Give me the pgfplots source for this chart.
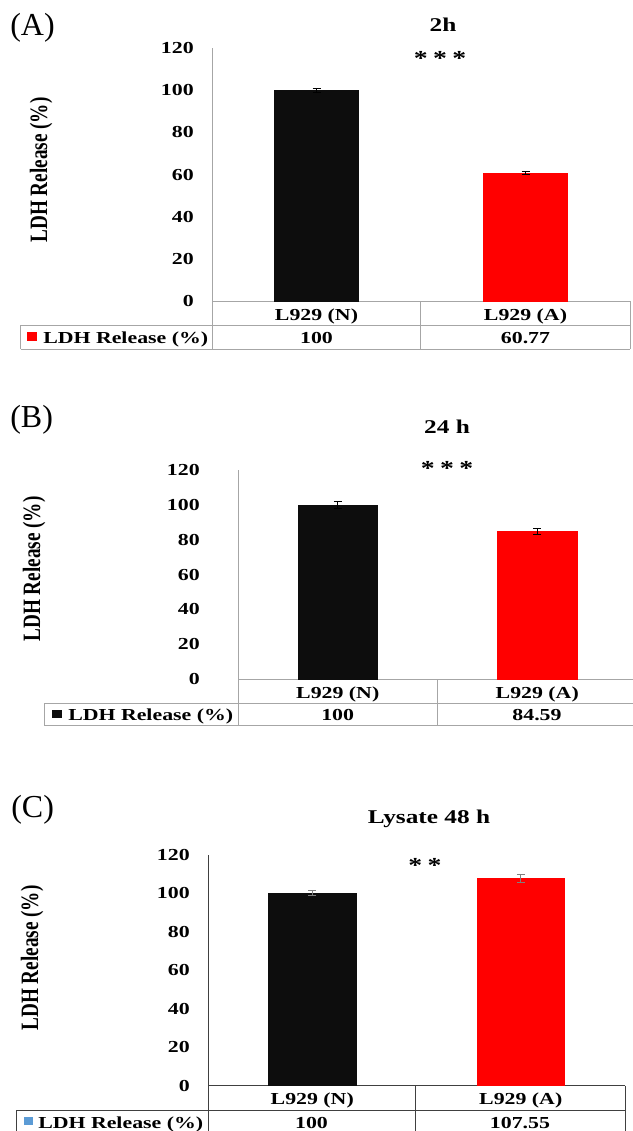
\documentclass[border=0pt]{standalone}
\usepackage{pgfplots}
\pgfplotsset{compat=1.18}
\usepackage{pgfplotstable}
\usepackage{fontspec}
\usepackage{graphicx}
\setmainfont[FakeStretch=1.3]{Liberation Serif}
\newfontfamily\plainserif{Liberation Serif}
\definecolor{barblack}{HTML}{0D0D0D}
\definecolor{barred}{HTML}{FF0000}
\definecolor{keyblue}{HTML}{5B9BD5}
\definecolor{lightline}{HTML}{A6A6A6}
\definecolor{darkline}{HTML}{404040}
\definecolor{errcol}{HTML}{7F7F7F}
\newcommand{\tfont}{\bfseries\fontsize{12.6}{14}\selectfont}
\newcommand{\titlefont}{\bfseries\fontsize{14.6}{16}\selectfont}
\newcommand{\starfont}{\bfseries\fontsize{16}{18}\selectfont}
\newcommand{\ylfont}{\plainserif\bfseries\fontsize{14.4}{16}\selectfont}
\newcommand{\panelfont}{\plainserif\fontsize{24}{26}\selectfont}
\newcommand{\stargap}{\hspace{4pt}}

\pgfplotsset{
  panel/.style={
    scale only axis, anchor=south west,
    xmin=-0.5, xmax=1.5, ymin=0, ymax=120,
    axis lines*=left,
    axis line style={-, line width=0.75pt},
    xtick={0,1}, xticklabels={L929 (N), L929 (A)},
    ytick={0,20,40,60,80,100,120},
    major tick length=0pt,
    /pgf/number format/assume math mode=true,
    tick label style={font=\tfont},
    x tick label style={anchor=base, yshift=-14.4pt},
    y tick label style={anchor=east, inner sep=0pt, xshift=-13.5pt},
    clip=false,
  },
  barN/.style={ybar, bar shift=0pt, fill=barblack, draw=barblack},
  barA/.style={ybar, bar shift=0pt, fill=barred, draw=barred},
  errBlk/.style={error bars/.cd, y dir=both, y explicit,
    error bar style={black, line width=0.75pt},
    error mark options={rotate=90, black, mark size=3pt, line width=0.75pt}},
  errGry/.style={error bars/.cd, y dir=both, y explicit,
    error bar style={errcol, line width=0.75pt},
    error mark options={rotate=90, errcol, mark size=3pt, line width=0.75pt}},
}

\pgfplotstableread{
x y err
0 100   1.0
1 60.77 0.7
}\dataA
\pgfplotstableread{
x y err
0 100   1.9
1 84.59 1.7
}\dataB
\pgfplotstableread{
x y err
0 100    1.3
1 107.55 2.3
}\dataC

\begin{document}
\begin{tikzpicture}
\useasboundingbox (0pt,0pt) rectangle (474pt,-848.25pt);

% ---------------- Panel A ----------------
\begin{axis}[panel, at={(159pt,-225.75pt)}, width=313.5pt, height=189.75pt,
  bar width=0.40, axis line style={lightline}]
\addplot[barN, errBlk]
  table[x=x, y=y, y error=err, skip coords between index={1}{2}] {\dataA};
\addplot[barA, errBlk]
  table[x=x, y=y, y error=err, skip coords between index={0}{1}] {\dataA};
\end{axis}

% ---------------- Panel B ----------------
\begin{axis}[panel, at={(178.5pt,-509.25pt)}, width=299.25pt, height=156.75pt,
  bar width=0.40, axis line style={lightline}, y tick label style={xshift=-15pt}]
\addplot[barN, errBlk]
  table[x=x, y=y, y error=err, skip coords between index={1}{2}] {\dataB};
\addplot[barA, errBlk]
  table[x=x, y=y, y error=err, skip coords between index={0}{1}] {\dataB};
\end{axis}

% ---------------- Panel C ----------------
\begin{axis}[panel, at={(156pt,-814.125pt)}, width=312.75pt, height=173.25pt,
  bar width=0.42, axis line style={darkline}]
\addplot[barN, errGry]
  table[x=x, y=y, y error=err, skip coords between index={1}{2}] {\dataC};
\addplot[barA, errGry]
  table[x=x, y=y, y error=err, skip coords between index={0}{1}] {\dataC};
\end{axis}

\begin{scope}[x=0.75pt, y=-0.75pt]
% panel labels
\node[font=\panelfont, anchor=base west, inner sep=0pt] at (10,36) {(A)};
\node[font=\panelfont, anchor=base west, inner sep=0pt] at (10,427) {(B)};
\node[font=\panelfont, anchor=base west, inner sep=0pt] at (11,817) {(C)};
% titles
\node[font=\titlefont, anchor=base, inner sep=0pt] at (443,32) {2h};
\node[font=\titlefont, anchor=base, inner sep=0pt] at (447,433) {24 h};
\node[font=\titlefont, anchor=base, inner sep=0pt] at (429,823) {Lysate 48 h};
% significance
\node[font=\starfont, anchor=base, inner sep=0pt] at (440,66) {*\stargap*\stargap*};
\node[font=\starfont, anchor=base, inner sep=0pt] at (447,475) {*\stargap*\stargap*};
\node[font=\starfont, anchor=base, inner sep=0pt] at (425,872) {*\stargap*};
% y labels
\node[font=\ylfont, rotate=90] at (41,170) {\scalebox{1}[1.3]{LDH Release (\%)}};
\node[font=\ylfont, rotate=90] at (34,569) {\scalebox{1}[1.3]{LDH Release (\%)}};
\node[font=\ylfont, rotate=90] at (32,958) {\scalebox{1}[1.3]{LDH Release (\%)}};

% table A
\begin{scope}[draw=lightline, line width=0.75pt]
\draw (20.7,325) -- (630,325);
\draw (20.7,349) -- (630,349);
\draw (20.7,325) -- (20.7,349);
\draw (212,301) -- (212,349);
\draw (420.7,301) -- (420.7,349);
\draw (630,301) -- (630,349);
\end{scope}
\fill[barred] (27,332) rectangle (37,341);
\node[font=\tfont, anchor=base west, inner sep=0pt] at (43,343) {LDH Release (\%)};
\node[font=\tfont, anchor=base, inner sep=0pt] at (316.5,343) {100};
\node[font=\tfont, anchor=base, inner sep=0pt] at (525.5,343) {60.77};

% table B
\begin{scope}[draw=lightline, line width=0.75pt]
\draw (44.4,703) -- (640,703);
\draw (44.4,725) -- (640,725);
\draw (44.4,703) -- (44.4,725);
\draw (238,679) -- (238,725);
\draw (437.5,679) -- (437.5,725);
\end{scope}
\fill[barblack] (52,710) rectangle (62,718);
\node[font=\tfont, anchor=base west, inner sep=0pt] at (68,720) {LDH Release (\%)};
\node[font=\tfont, anchor=base, inner sep=0pt] at (337.7,720) {100};
\node[font=\tfont, anchor=base, inner sep=0pt] at (537,720) {84.59};

% table C
\begin{scope}[draw=darkline, line width=0.75pt]
\draw (16,1110) -- (625,1110);
\draw (16,1110) -- (16,1140);
\draw (208,1085.5) -- (208,1140);
\draw (415,1085.5) -- (415,1140);
\draw (625,1085.5) -- (625,1140);
\end{scope}
\fill[keyblue] (24,1117) rectangle (33,1125);
\node[font=\tfont, anchor=base west, inner sep=0pt] at (38,1128) {LDH Release (\%)};
\node[font=\tfont, anchor=base, inner sep=0pt] at (311.5,1128) {100};
\node[font=\tfont, anchor=base, inner sep=0pt] at (520,1128) {107.55};
\end{scope}
\end{tikzpicture}
\end{document}
